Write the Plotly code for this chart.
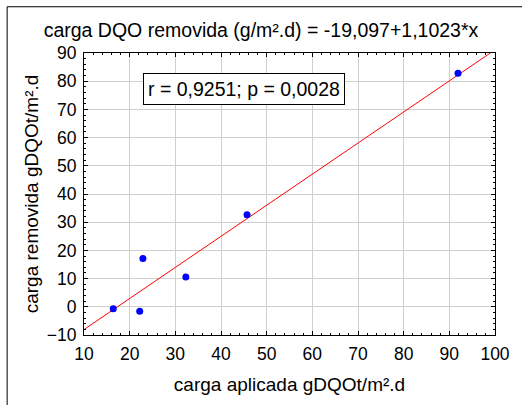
import plotly.graph_objects as go

# Applied vs. removed COD load, with linear fit
carga_aplicada = [16.4, 22.2, 22.9, 32.3, 45.7, 91.9]
carga_removida = [-0.7, -1.6, 17.1, 10.6, 32.6, 82.8]

intercepto = -19.097
pendiente = 1.1023
x_fit = [10, 100]
y_fit = [intercepto + pendiente * v for v in x_fit]

x_ticks = [10, 20, 30, 40, 50, 60, 70, 80, 90, 100]
y_ticks = [-10, 0, 10, 20, 30, 40, 50, 60, 70, 80, 90]

FONT = "Liberation Sans, Arial, sans-serif"

fig = go.Figure()
fig.add_trace(go.Scatter(x=x_fit, y=y_fit, mode="lines",
                         line=dict(color="#ff0000", width=1), hoverinfo="skip"))
fig.add_trace(go.Scatter(x=carga_aplicada, y=carga_removida, mode="markers",
                         marker=dict(color="#0000ff", size=7)))

axis_common = dict(
    showline=True, linecolor="black", linewidth=1, mirror="allticks",
    ticks="inside", ticklen=4, tickcolor="black",
    showgrid=True, gridcolor="#cfcfcf", gridwidth=1, zeroline=False,
    tickfont=dict(family=FONT, size=17.5, color="black"),
    minor=dict(ticks="inside", dtick=2, ticklen=2, tickcolor="black", showgrid=False),
)

fig.update_layout(
    width=522, height=405,
    margin=dict(l=83.5, r=19, t=52.5, b=69.5),
    paper_bgcolor="white", plot_bgcolor="white",
    showlegend=False,
    font=dict(family=FONT, size=17, color="black"),
    title=dict(text="carga DQO removida (g/m\u00b2.d) = -19,097+1,1023*x",
               x=0.5, xanchor="center", y=0.925, yanchor="middle",
               font=dict(family=FONT, size=19.5, color="black")),
    xaxis=dict(range=[10, 100], tickvals=x_ticks, ticklabelstandoff=3,
               title=dict(text="carga aplicada gDQOt/m\u00b2.d", standoff=14,
                          font=dict(family=FONT, size=19)),
               **axis_common),
    yaxis=dict(range=[-10, 90], tickvals=y_ticks, ticklabelstandoff=3,
               title=dict(text="carga removida gDQOt/m\u00b2.d", standoff=3,
                          font=dict(family=FONT, size=19)),
               **axis_common),
)

fig.add_annotation(xref="paper", yref="paper", x=0.1426, y=0.8735,
                   xanchor="left", yanchor="middle",
                   text="r = 0,9251; p = 0,0028", showarrow=False,
                   font=dict(family=FONT, size=19.5, color="black"),
                   bordercolor="black", borderwidth=1, borderpad=4,
                   bgcolor="white")

# Outer frame around the whole figure
fig.add_shape(type="rect", xref="paper", yref="paper",
              x0=-0.187, x1=1.1, y0=-0.3, y1=1.164,
              line=dict(color="black", width=1), layer="below")

fig.write_html("out.html")
